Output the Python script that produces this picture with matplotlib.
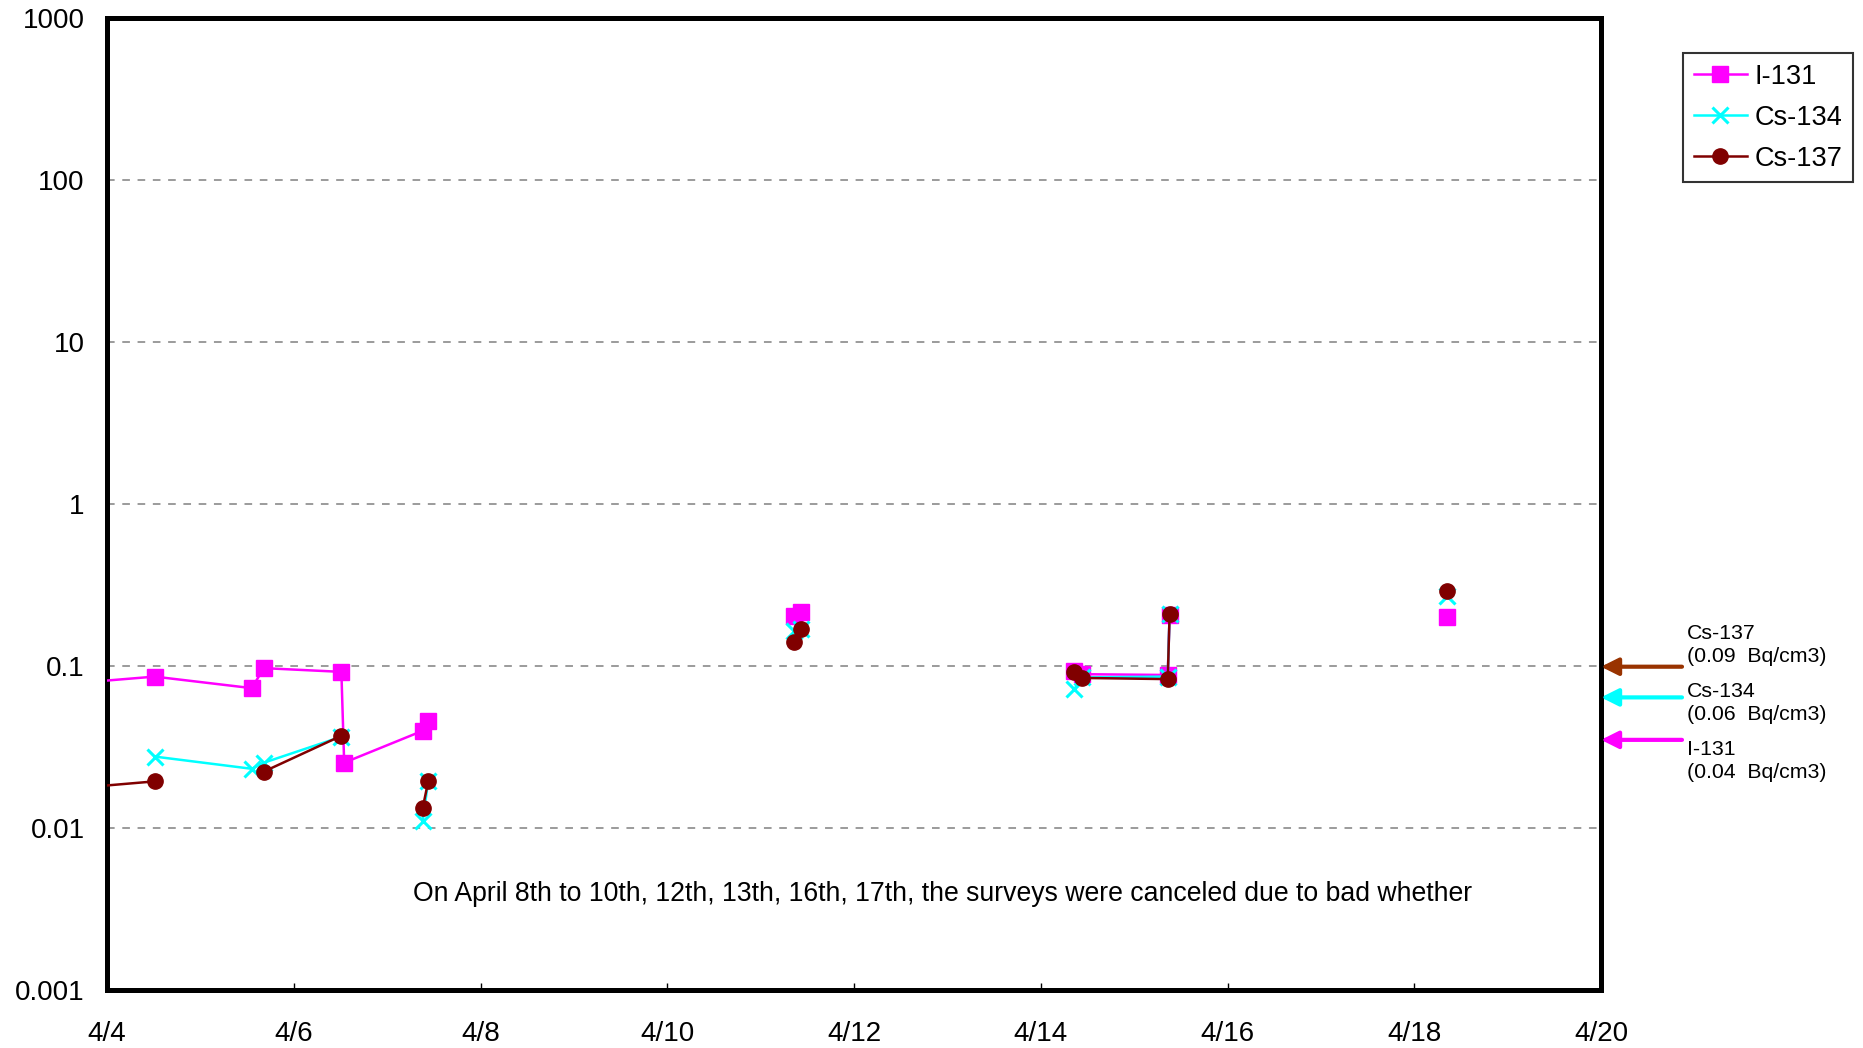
import numpy as np
import matplotlib
matplotlib.use("Agg")
import matplotlib.pyplot as plt
from matplotlib.ticker import FixedLocator, FixedFormatter, NullLocator
import matplotlib.transforms as mtransforms

plt.rcParams['font.family'] = ['Liberation Sans', 'DejaVu Sans']

nan = np.nan
# time in days of April (4.0 = 4/4 00:00)
times = [3.5, 4.51, 5.55, 5.68, 6.51, 6.54, 7.38, 7.44, 9.0,
         11.36, 11.43, 13.0, 14.36, 14.44, 15.36, 15.38, 17.0, 18.35]
i131 = [0.077, 0.086, 0.073, 0.097, 0.092, 0.0253, 0.0398, 0.0459, nan,
        0.203, 0.215, nan, 0.093, 0.089, 0.088, 0.205, nan, 0.20]
cs134 = [nan, 0.0276, 0.0232, 0.0253, 0.0366, nan, 0.011, 0.0194, nan,
         0.165, 0.17, nan, 0.072, 0.085, 0.086, 0.21, nan, 0.27]
cs137 = [0.0173, 0.0194, nan, 0.0223, 0.0371, nan, 0.0132, 0.0194, nan,
         0.140, 0.169, nan, 0.092, 0.0844, 0.083, 0.21, nan, 0.29]

series_names = ['I-131', 'Cs-134', 'Cs-137']

x_ticks = [4, 6, 8, 10, 12, 14, 16, 18, 20]
x_labels = ['4/4', '4/6', '4/8', '4/10', '4/12', '4/14', '4/16', '4/18', '4/20']
y_ticks = [0.001, 0.01, 0.1, 1, 10, 100, 1000]
y_labels = ['0.001', '0.01', '0.1', '1', '10', '100', '1000']

limit_names = ['Cs-137', 'Cs-134', 'I-131']
limit_values = ['0.09', '0.06', '0.04']
limit_arrow_y = [0.099, 0.064, 0.035]

note = ("On April 8th to 10th, 12th, 13th, 16th, 17th, "
        "the surveys were canceled due to bad whether")

W, H = 1863, 1048
fig = plt.figure(figsize=(W / 100, H / 100), dpi=100)
ax = fig.add_axes([107 / W, 1 - 990 / H, (1601 - 107) / W, (990 - 18) / H])

ax.plot(times, i131, color='#FF00FF', lw=1.8, marker='s', ms=11,
        mec='#FF00FF', mfc='#FF00FF', label=series_names[0], zorder=3)
ax.plot(times, cs134, color='#00FFFF', lw=1.8, marker='x', ms=11, mew=2.2,
        label=series_names[1], zorder=4)
ax.plot(times, cs137, color='#800000', lw=1.8, marker='o', ms=11,
        mec='#800000', mfc='#800000', label=series_names[2], zorder=5)

ax.set_yscale('log')
ax.set_xlim(4, 20)
ax.set_ylim(0.001, 1000)
ax.yaxis.set_major_locator(FixedLocator(y_ticks))
ax.yaxis.set_major_formatter(FixedFormatter(y_labels))
ax.yaxis.set_minor_locator(NullLocator())
ax.xaxis.set_major_locator(FixedLocator(x_ticks))
ax.xaxis.set_major_formatter(FixedFormatter(x_labels))
ax.xaxis.set_minor_locator(NullLocator())

ax.tick_params(axis='x', direction='in', length=5, width=1, labelsize=20, pad=22)
ax.tick_params(axis='y', direction='in', length=0, labelsize=20, pad=16)

for yv in [0.01, 0.1, 1, 10, 100]:
    ax.axhline(yv, color='#808080', lw=1.1, ls=(0, (5, 5)), zorder=1)

for s in ax.spines.values():
    s.set_linewidth(3.6)
    s.set_color('black')

ax.text(7.28, 0.0039, note, fontsize=19.2, ha='left', va='center')

leg = ax.legend(loc='upper left', bbox_to_anchor=(1683 / W, 1 - 53 / H),
                bbox_transform=fig.transFigure, fontsize=19.5, frameon=True,
                fancybox=False, edgecolor='black', handlelength=1.95,
                handletextpad=0.3, labelspacing=0.55, borderpad=0.4,
                borderaxespad=0)
leg.get_frame().set_linewidth(1.5)

arrow_colors = ['#993300', '#00FFFF', '#FF00FF']
text_centers = [645, 703, 761]
trans = mtransforms.blended_transform_factory(ax.transAxes, ax.transData)
for name, val, ay, col, tc in zip(limit_names, limit_values, limit_arrow_y,
                                  arrow_colors, text_centers):
    tail_x = 1 + (1682 - 1601) / (1601 - 107)
    ax.annotate('', xy=(1.0, ay), xycoords=trans,
                xytext=(tail_x, ay), textcoords=trans,
                arrowprops=dict(arrowstyle='-|>', color=col, lw=3,
                                mutation_scale=26, shrinkA=0, shrinkB=0),
                annotation_clip=False)
    fig.text(1687 / W, 1 - tc / H, f"{name}\n({val}  Bq/cm3)",
             fontsize=15.3, ha='left', va='center', linespacing=1.3)

fig.savefig('out.png', dpi=100)
